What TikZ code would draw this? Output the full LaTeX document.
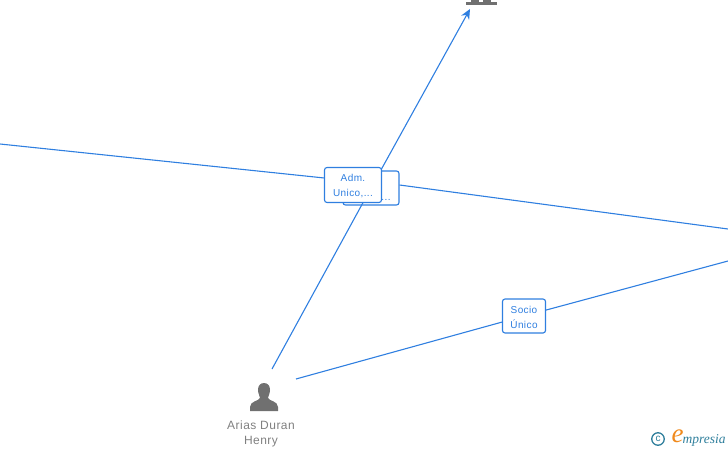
\documentclass[tikz,border=0pt]{standalone}
\usepackage{fontspec}
\setmainfont{Liberation Sans}
\newfontfamily\logofont{Liberation Serif}
\usetikzlibrary{arrows.meta,positioning,calc}
\definecolor{linkblue}{HTML}{2F7FE0}
\definecolor{icongray}{HTML}{707070}
\definecolor{namegray}{HTML}{808080}
\definecolor{logoteal}{HTML}{2F7F9C}
\definecolor{logoorange}{HTML}{F08A1D}

\begin{document}
\begin{tikzpicture}[
  x=1pt, y=-1pt,
  lnk/.style={draw=linkblue, line width=1.1pt},
  arr/.style={lnk, -{Stealth[length=10pt,width=9pt]}},
  box/.style={draw=linkblue, fill=white, rounded corners=2.5pt, line width=1.1pt, align=center,
              text=linkblue, inner sep=0pt,
              font=\fontsize{10}{15}\selectfont\addfontfeature{LetterSpace=4}},
  who/.style={align=center, text=namegray, inner sep=0pt,
              font=\fontsize{12}{15}\selectfont\addfontfeature{LetterSpace=4}},
  icon/.style={inner sep=0pt, minimum size=28pt}
]
\useasboundingbox (0,0) rectangle (728,450);
% free ends of the connectors
\coordinate (west) at (0,144);
\coordinate (bend) at (353,181);
\coordinate (east) at (728,229);
\coordinate (eastb) at (728,261);
\coordinate (top) at (470,9);
\coordinate (henryup) at (272,369);
\coordinate (henryright) at (296,379);

\node[icon] (henry) at (264,397) {};
\node[who, anchor=north] (henryname) at (261,419) {\rule{0pt}{10pt}Arias Duran\\Henry};

\node[box, minimum width=56pt, minimum height=34pt] (adm2) at (371,188) {\rule{0pt}{9.2pt}\\[1pt]\hspace*{30pt}...};
\node[box, minimum width=43pt, minimum height=34pt] (socio) at (524,316) {\rule{0pt}{9.2pt}Socio\\Único};

\draw[lnk] (west) -- (bend);
\draw[lnk] (adm2.east) ++(0,-3) -- (east);
\draw[lnk] (henryup) -- (adm2.center);
\draw[arr] (adm2.center) -- (top);
\draw[lnk] (henryright) -- (socio);
\draw[lnk] (socio) -- (eastb);

\node[box, minimum width=57pt, minimum height=35pt] (adm) at (353,185) {\rule{0pt}{9.2pt}Adm.\\Unico,...};

% person
\fill[icongray] (264,383) .. controls (260,383) and (258,386) .. (258,390)
  .. controls (258,394) and (260,396) .. (260,398)
  .. controls (259,401) and (250,401) .. (250,407) -- (250,411) -- (278,411) -- (278,407)
  .. controls (278,401) and (269,401) .. (268,398)
  .. controls (268,396) and (270,394) .. (270,390)
  .. controls (270,386) and (268,383) .. (264,383) -- cycle;
% top one, mostly cut off
\fill[icongray] (466,1.5) rectangle (497,4.5);
\fill[icongray] (471,0) rectangle (479,2);
\fill[icongray] (483,0) rectangle (491,2);

% logo
\node[circle, draw=logoteal, line width=1.3pt, text=logoteal, inner sep=0pt, minimum size=12.5pt,
      font=\fontsize{10}{10}\selectfont] (copy) at (658,439) {c};
\node[text=logoorange, inner sep=0pt, font=\logofont\itshape\fontsize{27}{27}\selectfont] (ee) at (677.5,436) {e};
\node[text=logoteal, inner sep=0pt, anchor=base west, font=\logofont\itshape\fontsize{13.5}{13}\selectfont] (brand) at (682.5,443) {mpresia};
\end{tikzpicture}
\end{document}
